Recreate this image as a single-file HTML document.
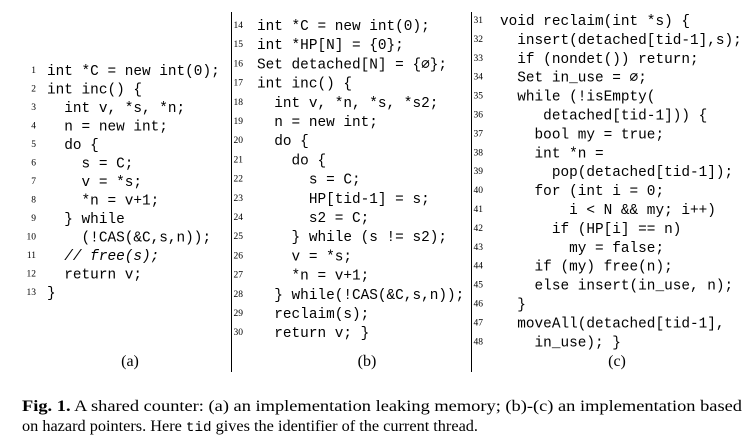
<!DOCTYPE html>
<html><head><meta charset="utf-8"><style>
html,body{margin:0;padding:0;background:#fff;}
svg{display:block;}
.c{font-family:"Liberation Mono",monospace;font-size:14.4px;fill:#000;}
.n{font-family:"Liberation Serif",serif;font-size:9.5px;fill:#000;}
.l{font-family:"Liberation Serif",serif;font-size:16px;fill:#000;}
.cap{font-family:"Liberation Serif",serif;font-size:16px;fill:#000;}
</style></head><body>
<svg width="752" height="437" viewBox="0 0 752 437" xmlns="http://www.w3.org/2000/svg">
<line x1="231.5" y1="12" x2="231.5" y2="372" stroke="#000" stroke-width="1"/>
<line x1="471.5" y1="12" x2="471.5" y2="372" stroke="#000" stroke-width="1"/>

<!-- (a) -->
<g text-anchor="end" class="n">
<text x="36" y="73">1</text><text x="36" y="91.5">2</text><text x="36" y="110">3</text><text x="36" y="128.5">4</text><text x="36" y="147">5</text><text x="36" y="165.5">6</text><text x="36" y="184">7</text><text x="36" y="202.5">8</text><text x="36" y="221">9</text><text x="36" y="239.5">10</text><text x="36" y="258">11</text><text x="36" y="276.5">12</text><text x="36" y="295">13</text>
</g>
<g class="c">
<text x="47" y="75">int *C = new int(0);</text>
<text x="47" y="93.5">int inc() {</text>
<text x="47" y="112">&#160;&#160;int v, *s, *n;</text>
<text x="47" y="130.5">&#160;&#160;n = new int;</text>
<text x="47" y="149">&#160;&#160;do {</text>
<text x="47" y="167.5">&#160;&#160;&#160;&#160;s = C;</text>
<text x="47" y="186">&#160;&#160;&#160;&#160;v = *s;</text>
<text x="47" y="204.5">&#160;&#160;&#160;&#160;*n = v+1;</text>
<text x="47" y="223">&#160;&#160;} while</text>
<text x="47" y="241.5">&#160;&#160;&#160;&#160;(!CAS(&amp;C,s,n));</text>
<text x="47" y="260" font-style="italic">&#160;&#160;// free(s);</text>
<text x="47" y="278.5">&#160;&#160;return v;</text>
<text x="47" y="297">}</text>
</g>
<text class="l" x="130" y="366" text-anchor="middle">(a)</text>

<!-- (b) -->
<g text-anchor="end" class="n">
<text x="243" y="28">14</text><text x="243" y="47.2">15</text><text x="243" y="66.4">16</text><text x="243" y="85.6">17</text><text x="243" y="104.8">18</text><text x="243" y="124">19</text><text x="243" y="143.2">20</text><text x="243" y="162.4">21</text><text x="243" y="181.6">22</text><text x="243" y="200.8">23</text><text x="243" y="220">24</text><text x="243" y="239.2">25</text><text x="243" y="258.4">26</text><text x="243" y="277.6">27</text><text x="243" y="296.8">28</text><text x="243" y="316">29</text><text x="243" y="335.2">30</text>
</g>
<g class="c">
<text x="257" y="30">int *C = new int(0);</text>
<text x="257" y="49.2">int *HP[N] = {0};</text>
<text x="257" y="68.4">Set detached[N] = {∅};</text>
<text x="257" y="87.6">int inc() {</text>
<text x="257" y="106.8">&#160;&#160;int v, *n, *s, *s2;</text>
<text x="257" y="126">&#160;&#160;n = new int;</text>
<text x="257" y="145.2">&#160;&#160;do {</text>
<text x="257" y="164.4">&#160;&#160;&#160;&#160;do {</text>
<text x="257" y="183.6">&#160;&#160;&#160;&#160;&#160;&#160;s = C;</text>
<text x="257" y="202.8">&#160;&#160;&#160;&#160;&#160;&#160;HP[tid-1] = s;</text>
<text x="257" y="222">&#160;&#160;&#160;&#160;&#160;&#160;s2 = C;</text>
<text x="257" y="241.2">&#160;&#160;&#160;&#160;} while (s != s2);</text>
<text x="257" y="260.4">&#160;&#160;&#160;&#160;v = *s;</text>
<text x="257" y="279.6">&#160;&#160;&#160;&#160;*n = v+1;</text>
<text x="257" y="298.8">&#160;&#160;} while(!CAS(&amp;C,s,n));</text>
<text x="257" y="318">&#160;&#160;reclaim(s);</text>
<text x="257" y="337.2">&#160;&#160;return v; }</text>
</g>
<text class="l" x="367" y="366" text-anchor="middle">(b)</text>

<!-- (c) -->
<g text-anchor="end" class="n">
<text x="483" y="23">31</text><text x="483" y="41.9">32</text><text x="483" y="60.8">33</text><text x="483" y="79.7">34</text><text x="483" y="98.6">35</text><text x="483" y="117.5">36</text><text x="483" y="136.4">37</text><text x="483" y="155.3">38</text><text x="483" y="174.2">39</text><text x="483" y="193.1">40</text><text x="483" y="212">41</text><text x="483" y="230.9">42</text><text x="483" y="249.8">43</text><text x="483" y="268.7">44</text><text x="483" y="287.6">45</text><text x="483" y="306.5">46</text><text x="483" y="325.4">47</text><text x="483" y="344.3">48</text>
</g>
<g class="c">
<text x="500" y="25">void reclaim(int *s) {</text>
<text x="500" y="43.9">&#160;&#160;insert(detached[tid-1],s);</text>
<text x="500" y="62.8">&#160;&#160;if (nondet()) return;</text>
<text x="500" y="81.7">&#160;&#160;Set in_use = ∅;</text>
<text x="500" y="100.6">&#160;&#160;while (!isEmpty(</text>
<text x="500" y="119.5">&#160;&#160;&#160;&#160;&#160;detached[tid-1])) {</text>
<text x="500" y="138.4">&#160;&#160;&#160;&#160;bool my = true;</text>
<text x="500" y="157.3">&#160;&#160;&#160;&#160;int *n =</text>
<text x="500" y="176.2">&#160;&#160;&#160;&#160;&#160;&#160;pop(detached[tid-1]);</text>
<text x="500" y="195.1">&#160;&#160;&#160;&#160;for (int i = 0;</text>
<text x="500" y="214">&#160;&#160;&#160;&#160;&#160;&#160;&#160;&#160;i &lt; N &amp;&amp; my; i++)</text>
<text x="500" y="232.9">&#160;&#160;&#160;&#160;&#160;&#160;if (HP[i] == n)</text>
<text x="500" y="251.8">&#160;&#160;&#160;&#160;&#160;&#160;&#160;&#160;my = false;</text>
<text x="500" y="270.7">&#160;&#160;&#160;&#160;if (my) free(n);</text>
<text x="500" y="289.6">&#160;&#160;&#160;&#160;else insert(in_use, n);</text>
<text x="500" y="308.5">&#160;&#160;}</text>
<text x="500" y="327.4">&#160;&#160;moveAll(detached[tid-1],</text>
<text x="500" y="346.3">&#160;&#160;&#160;&#160;in_use); }</text>
</g>
<text class="l" x="617" y="366" text-anchor="middle">(c)</text>

<!-- caption -->
<text class="cap" x="22" y="411" textLength="720" lengthAdjust="spacingAndGlyphs"><tspan font-weight="bold">Fig. 1.</tspan> A shared counter: (a) an implementation leaking memory; (b)-(c) an implementation based</text>
<text class="cap" x="22" y="431" textLength="456" lengthAdjust="spacingAndGlyphs">on hazard pointers. Here <tspan font-family="Liberation Mono, monospace" font-size="14px">tid</tspan> gives the identifier of the current thread.</text>
</svg>
</body></html>
